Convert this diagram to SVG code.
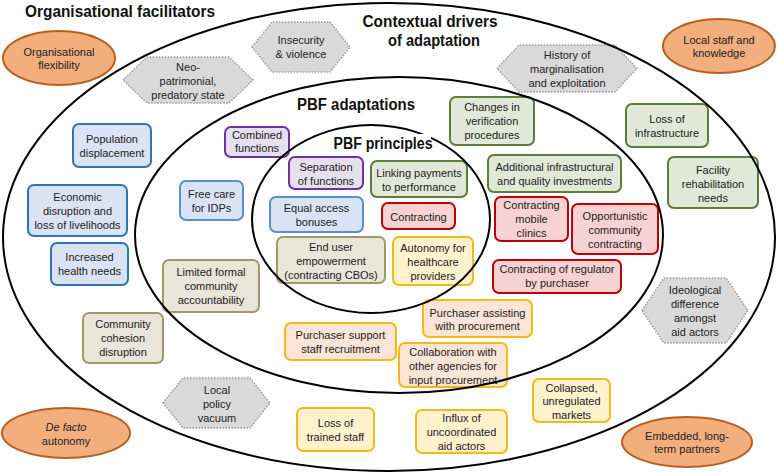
<svg xmlns="http://www.w3.org/2000/svg" width="777" height="474" viewBox="0 0 777 474">
<style>
.t{font-family:"Liberation Sans",Arial,sans-serif;font-size:11px;fill:#222;text-anchor:middle}
.h{font-family:"Liberation Sans",Arial,sans-serif;font-weight:bold;font-size:16px;fill:#111;text-anchor:middle}
.b rect{stroke-width:2}
.blue{fill:#DAE3F3;stroke:#2E75B6}
.blue2{fill:#DAE3F3;stroke:#5A8FCB}
.purple{fill:#E5DFEE;stroke:#7030A0}
.green{fill:#E1E8D8;stroke:#5E7C3A}
.red{fill:#F6D3D2;stroke:#C00000}
.tan{fill:#E8E5D9;stroke:#A0976A}
.yel{fill:#FFF2CC;stroke:#F2BA14}
.peach{fill:#FCE4D6;stroke:#F2BA14}
.hex{fill:#D9D9D9;stroke:#9A9A9A;stroke-width:1.5;stroke-dasharray:1.5 1.5}
.org{fill:#F2AE7D;stroke:#B9601F;stroke-width:2}
.ring{fill:none;stroke:#000;stroke-width:2}
</style>

<!-- Organisational facilitators -->
<g id="orgflex"><ellipse class="org" cx="59" cy="58" rx="56" ry="27"/><text class="t" x="59" y="56">Organisational</text><text class="t" x="59" y="69">flexibility</text></g>
<g id="localstaff"><ellipse class="org" cx="719" cy="46" rx="56" ry="27"/><text class="t" x="719" y="44">Local staff and</text><text class="t" x="719" y="57">knowledge</text></g>
<g id="defacto"><ellipse class="org" cx="66" cy="433" rx="64" ry="25"/><text class="t" x="66" y="431" font-style="italic">De facto</text><text class="t" x="66" y="445">autonomy</text></g>
<g id="embedded"><ellipse class="org" cx="687" cy="442" rx="65" ry="25"/><text class="t" x="687" y="440">Embedded, long-</text><text class="t" x="687" y="453">term partners</text></g>

<!-- Contextual drivers (hexagons) -->
<g id="insecurity"><polygon class="hex" points="252,47 272,22 330,22 350,47 330,72 272,72"/><text class="t" x="301" y="44">Insecurity</text><text class="t" x="301" y="58">&amp; violence</text></g>
<g id="neopatrimonial"><polygon class="hex" points="123,80 147,57 229,57 253,80 229,103 147,103"/><text class="t" x="188" y="71">Neo-</text><text class="t" x="188" y="85">patrimonial,</text><text class="t" x="188" y="99">predatory state</text></g>
<g id="history"><polygon class="hex" points="497,68.5 519,45 615,45 637,68.5 615,92 519,92"/><text class="t" x="567" y="59">History of</text><text class="t" x="567" y="73">marginalisation</text><text class="t" x="567" y="87">and exploitation</text></g>
<g id="ideological"><polygon class="hex" points="642,310.5 664,278 726,278 748,310.5 726,343 664,343"/><text class="t" x="695" y="294">Ideological</text><text class="t" x="695" y="308">difference</text><text class="t" x="695" y="322">amongst</text><text class="t" x="695" y="336">aid actors</text></g>
<g id="localpolicy"><polygon class="hex" points="163,403 183,378 250,378 270,403 250,428 183,428"/><text class="t" x="217" y="394">Local</text><text class="t" x="217" y="408">policy</text><text class="t" x="217" y="422">vacuum</text></g>

<!-- Boxes -->
<g class="b">
<g id="population"><rect class="blue" x="73" y="124" width="78" height="43" rx="6"/><text class="t" x="112" y="142.5">Population</text><text class="t" x="112" y="156.5">displacement</text></g>
<g id="economic"><rect class="blue" x="28" y="185" width="99" height="51" rx="6"/><text class="t" x="77.5" y="200.5">Economic</text><text class="t" x="77.5" y="214.5">disruption and</text><text class="t" x="77.5" y="228.5">loss of livelihoods</text></g>
<g id="health"><rect class="blue" x="51" y="243" width="77" height="42" rx="6"/><text class="t" x="89.5" y="261">Increased</text><text class="t" x="89.5" y="275">health needs</text></g>
<g id="freecare"><rect class="blue2" x="180" y="181" width="63" height="39" rx="6"/><text class="t" x="211.5" y="197.5">Free care</text><text class="t" x="211.5" y="211.5">for IDPs</text></g>
<g id="equalaccess"><rect class="blue2" x="270" y="197" width="93" height="35" rx="6"/><text class="t" x="316.5" y="211.5">Equal access</text><text class="t" x="316.5" y="225.5">bonuses</text></g>

<g id="combined"><rect class="purple" x="225" y="127" width="64" height="30" rx="6"/><text class="t" x="257" y="139">Combined</text><text class="t" x="257" y="152">functions</text></g>
<g id="separation"><rect class="purple" x="289" y="157" width="74" height="32" rx="6"/><text class="t" x="326" y="171">Separation</text><text class="t" x="326" y="185">of functions</text></g>

<g id="changes"><rect class="green" x="450" y="97" width="84" height="48" rx="6"/><text class="t" x="492" y="111">Changes in</text><text class="t" x="492" y="125">verification</text><text class="t" x="492" y="139">procedures</text></g>
<g id="lossinfra"><rect class="green" x="626" y="104" width="82" height="43" rx="6"/><text class="t" x="667" y="122.5">Loss of</text><text class="t" x="667" y="136.5">infrastructure</text></g>
<g id="linking"><rect class="green" x="371" y="161" width="96" height="36" rx="6"/><text class="t" x="419" y="177">Linking payments</text><text class="t" x="419" y="191">to performance</text></g>
<g id="additional"><rect class="green" x="488" y="155" width="133" height="37" rx="6"/><text class="t" x="554.5" y="171">Additional infrastructural</text><text class="t" x="554.5" y="185">and quality investments</text></g>
<g id="facility"><rect class="green" x="668" y="157" width="90" height="51" rx="6"/><text class="t" x="713" y="174">Facility</text><text class="t" x="713" y="188">rehabilitation</text><text class="t" x="713" y="202">needs</text></g>

<g id="contracting"><rect class="red" x="382" y="203" width="73" height="26" rx="6"/><text class="t" x="418.5" y="221">Contracting</text></g>
<g id="mobile"><rect class="red" x="495" y="197" width="73" height="44" rx="6"/><text class="t" x="531.5" y="209">Contracting</text><text class="t" x="531.5" y="223">mobile</text><text class="t" x="531.5" y="237">clinics</text></g>
<g id="opportunistic"><rect class="red" x="572" y="204" width="86" height="50" rx="6"/><text class="t" x="615" y="220">Opportunistic</text><text class="t" x="615" y="234">community</text><text class="t" x="615" y="248">contracting</text></g>
<g id="regulator"><rect class="red" x="493" y="260" width="128" height="33" rx="6"/><text class="t" x="557" y="273">Contracting of regulator</text><text class="t" x="557" y="287">by purchaser</text></g>

<g id="enduser"><rect class="tan" x="277" y="237" width="108" height="46" rx="6"/><text class="t" x="331" y="251">End user</text><text class="t" x="331" y="265">empowerment</text><text class="t" x="331" y="279">(contracting CBOs)</text></g>
<g id="limited"><rect class="tan" x="163" y="260" width="96" height="52" rx="6"/><text class="t" x="211" y="276">Limited formal</text><text class="t" x="211" y="290">community</text><text class="t" x="211" y="304">accountability</text></g>
<g id="cohesion"><rect class="tan" x="83" y="313" width="80" height="50" rx="6"/><text class="t" x="123" y="328">Community</text><text class="t" x="123" y="342">cohesion</text><text class="t" x="123" y="356">disruption</text></g>

<g id="autonomy"><rect class="yel" x="393" y="237" width="80" height="48" rx="6"/><text class="t" x="433" y="252">Autonomy for</text><text class="t" x="433" y="266">healthcare</text><text class="t" x="433" y="280">providers</text></g>
<g id="purchassist"><rect class="peach" x="423" y="300" width="109" height="37" rx="6"/><text class="t" x="477.5" y="317">Purchaser assisting</text><text class="t" x="477.5" y="330">with procurement</text></g>
<g id="purchsupport"><rect class="peach" x="285" y="323" width="111" height="37" rx="6"/><text class="t" x="340.5" y="339">Purchaser support</text><text class="t" x="340.5" y="353">staff recruitment</text></g>
<g id="collab"><rect class="peach" x="399" y="343" width="108" height="44" rx="6"/><text class="t" x="453" y="356">Collaboration with</text><text class="t" x="453" y="370">other agencies for</text><text class="t" x="453" y="384">input procurement</text></g>
<g id="losstrained"><rect class="yel" x="297" y="408" width="77" height="43" rx="6"/><text class="t" x="335.5" y="427">Loss of</text><text class="t" x="335.5" y="441">trained staff</text></g>
<g id="influx"><rect class="yel" x="416" y="410" width="91" height="43" rx="6"/><text class="t" x="461.5" y="422">Influx of</text><text class="t" x="461.5" y="436">uncoordinated</text><text class="t" x="461.5" y="450">aid actors</text></g>
<g id="collapsed"><rect class="yel" x="533" y="379" width="77" height="43" rx="6"/><text class="t" x="571.5" y="392">Collapsed,</text><text class="t" x="571.5" y="405">unregulated</text><text class="t" x="571.5" y="419">markets</text></g>
</g>

<!-- Region boundaries (no connectors in this diagram) -->
<g id="connectors">
<ellipse class="ring" cx="389" cy="237" rx="386" ry="234"/>
<ellipse class="ring" cx="399" cy="235" rx="264" ry="158"/>
<ellipse class="ring" cx="371" cy="219" rx="119" ry="94"/>
</g>

<!-- Titles -->
<g id="titles">
<text class="h" x="120" y="17" textLength="190" lengthAdjust="spacingAndGlyphs">Organisational facilitators</text>
<text class="h" x="430" y="27" textLength="135" lengthAdjust="spacingAndGlyphs">Contextual drivers</text>
<text class="h" x="434" y="46" textLength="92" lengthAdjust="spacingAndGlyphs">of adaptation</text>
<text class="h" x="356" y="110" textLength="118" lengthAdjust="spacingAndGlyphs">PBF adaptations</text>
<rect x="332" y="134" width="99" height="19" fill="#fff"/>
<text class="h" x="383" y="149" textLength="99" lengthAdjust="spacingAndGlyphs">PBF principles</text>
</g>
</svg>
